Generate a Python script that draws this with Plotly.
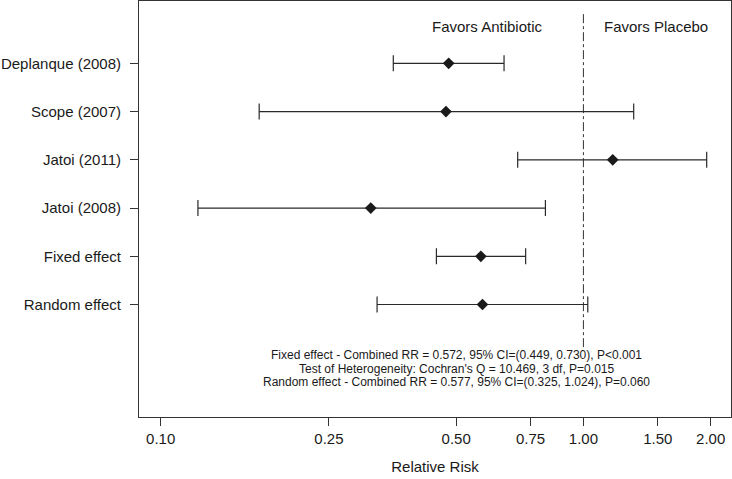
import numpy as np
import plotly.graph_objects as go

# forest plot data (relative risk, 95% CI)
studies = ['Deplanque (2008)', 'Scope (2007)', 'Jatoi (2011)', 'Jatoi (2008)',
           'Fixed effect', 'Random effect']
rr = [0.480, 0.473, 1.173, 0.314, 0.572, 0.577]
ci_low = [0.355, 0.171, 0.699, 0.1225, 0.449, 0.325]
ci_high = [0.649, 1.315, 1.957, 0.813, 0.730, 1.024]
rows = [6, 5, 4, 3, 2, 1]

x_ticks = [0.10, 0.25, 0.50, 0.75, 1.00, 1.50, 2.00]
x_ticktext = ['0.10', '0.25', '0.50', '0.75', '1.00', '1.50', '2.00']

summary_lines = [
    "Fixed effect - Combined RR = 0.572, 95% CI=(0.449, 0.730), P<0.001",
    "Test of Heterogeneity: Cochran's Q = 10.469, 3 df, P=0.015",
    "Random effect - Combined RR = 0.577, 95% CI=(0.325, 1.024), P=0.060",
]

ink = '#1a1a1a'
font = 'Liberation Sans, Arial, sans-serif'

rr_a = np.array(rr)
fig = go.Figure()

# reference line at RR = 1
fig.add_trace(go.Scatter(x=[1, 1], y=[7.02, 0.09], mode='lines',
                         line=dict(color='#333333', width=1, dash='dashdot'),
                         hoverinfo='skip', showlegend=False))

fig.add_trace(go.Scatter(
    x=rr, y=rows, mode='markers',
    marker=dict(symbol='diamond', size=9, color=ink),
    error_x=dict(type='data', symmetric=False,
                 array=np.array(ci_high) - rr_a,
                 arrayminus=rr_a - np.array(ci_low),
                 color='#2a2a2a', thickness=1.2, width=8),
    showlegend=False))

fig.add_annotation(x=np.log10(0.594), y=6.76, text='Favors Antibiotic',
                   showarrow=False, font=dict(size=15, color=ink))
fig.add_annotation(x=np.log10(1.485), y=6.76, text='Favors Placebo',
                   showarrow=False, font=dict(size=15, color=ink))

for txt, yy in zip(summary_lines, [-0.051, -0.342, -0.612]):
    fig.add_annotation(x=np.log10(0.5), y=yy, text=txt, showarrow=False,
                       font=dict(size=12, color=ink))

fig.update_xaxes(type='log', range=[-1.0513, 0.3491],
                 tickvals=x_ticks, ticktext=x_ticktext,
                 ticks='outside', ticklen=8, tickcolor='#333333',
                 showline=True, mirror=True, linecolor='#333333', linewidth=1,
                 showgrid=False, zeroline=False, automargin=False,
                 tickfont=dict(size=15, color=ink),
                 title=dict(text='Relative Risk', font=dict(size=15, color=ink)))
fig.update_yaxes(range=[-1.332, 7.293],
                 tickvals=rows, ticktext=studies,
                 ticks='outside', ticklen=8, tickcolor='#333333',
                 ticklabelstandoff=6, automargin=False,
                 showline=True, mirror=True, linecolor='#333333', linewidth=1,
                 showgrid=False, zeroline=False,
                 tickfont=dict(size=15, color=ink))

fig.update_layout(width=732, height=479,
                  margin=dict(l=139, r=1, t=1, b=62),
                  plot_bgcolor='white', paper_bgcolor='white',
                  font=dict(family=font, color=ink))

# drop the default page margin so the figure sits at the window's corner
fig.write_html('out.html', config={'displayModeBar': False},
               post_script="document.body.style.margin='0';")
